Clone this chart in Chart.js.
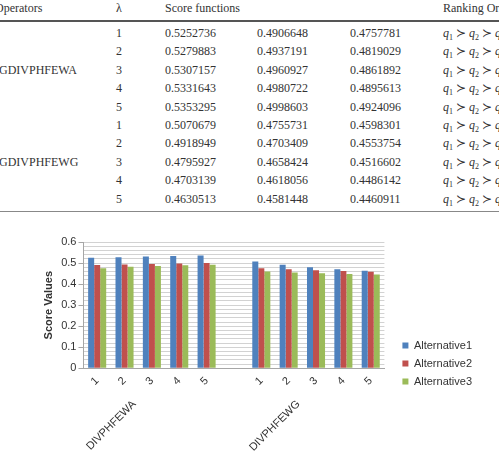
<!DOCTYPE html>
<html>
<head>
<meta charset="utf-8">
<script src="https://cdn.jsdelivr.net/npm/chart.js@4.4.1/dist/chart.umd.min.js"></script>
<style>
  body { margin: 0; width: 499px; height: 463px; overflow: hidden; background: #fff; position: relative; }
  #tbl { position: absolute; left: 0; top: 0; width: 499px; height: 215px; font-family: "Liberation Serif", "Times New Roman", serif; font-size: 12px; color: #333; }
  #tbl span { position: absolute; white-space: nowrap; line-height: 14px; }
  #tbl .rule1 { position: absolute; left: 0; width: 499px; top: 20px; height: 2px; background: #555; }
  #tbl .rule2 { position: absolute; left: 0; width: 499px; top: 211px; height: 1px; background: #888; }
  #wrap { position: absolute; left: 0; top: 228px; width: 499px; height: 235px; }
</style>
</head>
<body>
<div id="tbl"></div>
<div id="wrap"><canvas id="score_chart"></canvas></div>
<script>
// x axis categories (index 5 is the empty gap between the two operators)
var lambdaLabels = ['1', '2', '3', '4', '5', '', '1', '2', '3', '4', '5'];
var operatorNames = ['GDIVPHFEWA', 'GDIVPHFEWG'];
var groupLabels = ['DIVPHFEWA', 'DIVPHFEWG'];
var seriesNames = ['Alternative1', 'Alternative2', 'Alternative3'];

var alt1Wa = [0.5252736, 0.5279883, 0.5307157, 0.5331643, 0.5353295];
var alt2Wa = [0.4906648, 0.4937191, 0.4960927, 0.4980722, 0.4998603];
var alt3Wa = [0.4757781, 0.4819029, 0.4861892, 0.4895613, 0.4924096];
var alt1Wg = [0.5070679, 0.4918949, 0.4795927, 0.4703139, 0.4630513];
var alt2Wg = [0.4755731, 0.4703409, 0.4658424, 0.4618056, 0.4581448];
var alt3Wg = [0.4598301, 0.4553754, 0.4516602, 0.4486142, 0.4460911];

var barColors = ['#4f81bd', '#c0504d', '#9bbb59'];

// ---- table above the chart ----
var tbl = document.getElementById('tbl');
function put(text, x, y, html) {
    var s = document.createElement('span');
    if (html) { s.innerHTML = text; } else { s.textContent = text; }
    s.style.left = x + 'px';
    s.style.top = (y - 7) + 'px';
    tbl.appendChild(s);
}
put('Operators', -5, 8);
put('λ', 116, 8);
put('Score functions', 165, 8);
put('Ranking Order', 443, 8);
var rule = document.createElement('div'); rule.className = 'rule1'; tbl.appendChild(rule);
var rule2 = document.createElement('div'); rule2.className = 'rule2'; tbl.appendChild(rule2);

var rowY = 33, rowH = 18.4;
var tableCols = [[alt1Wa, alt2Wa, alt3Wa], [alt1Wg, alt2Wg, alt3Wg]];
for (var g = 0; g < 2; g++) {
    put(operatorNames[g], -1, rowY + rowH * (g * 5 + 2));
    for (var i = 0; i < 5; i++) {
        var y = rowY + rowH * (g * 5 + i);
        put(String(i + 1), 116, y);
        put(tableCols[g][0][i].toFixed(7), 165, y);
        put(tableCols[g][1][i].toFixed(7), 257, y);
        put(tableCols[g][2][i].toFixed(7), 350, y);
        put('<i>q</i><sub style="font-size:8px">1</sub> ≻ <i>q</i><sub style="font-size:8px">2</sub> ≻ <i>q</i><sub style="font-size:8px">3</sub>', 443, y, true);
    }
}

// ---- chart ----
function withGap(a, b) { return a.concat([null], b); }

var groupLabelPlugin = {
    id: 'groupLabels',
    afterDraw: function (chart) {
        var xs = chart.scales.x;
        var ctx = chart.ctx;
        var anchors = [1, 7];
        ctx.save();
        ctx.font = '11px "Liberation Sans", Arial, sans-serif';
        ctx.fillStyle = '#333';
        ctx.textAlign = 'right';
        ctx.textBaseline = 'middle';
        for (var i = 0; i < groupLabels.length; i++) {
            var x = (xs.getPixelForTick(anchors[i]) + xs.getPixelForTick(anchors[i] + 1)) / 2 - 4;
            var y = chart.chartArea.bottom + 34;
            ctx.save();
            ctx.translate(x, y);
            ctx.rotate(-Math.PI / 4);
            ctx.fillText(groupLabels[i], 0, 0);
            ctx.restore();
        }
        ctx.restore();
    }
};

function isMajor(v) { return Math.abs(v * 10 - Math.round(v * 10)) < 1e-6; }

var scoreConfig = {
    type: 'bar',
    data: {
        labels: lambdaLabels,
        datasets: [
            { label: seriesNames[0], data: withGap(alt1Wa, alt1Wg), backgroundColor: barColors[0] },
            { label: seriesNames[1], data: withGap(alt2Wa, alt2Wg), backgroundColor: barColors[1] },
            { label: seriesNames[2], data: withGap(alt3Wa, alt3Wg), backgroundColor: barColors[2] }
        ]
    },
    options: {
        responsive: true,
        maintainAspectRatio: false,
        animation: false,
        layout: { padding: { left: 38, right: 17, top: 14, bottom: 69 } },
        datasets: { bar: { categoryPercentage: 0.66, barPercentage: 1.0 } },
        plugins: {
            legend: {
                position: 'right',
                align: 'end',
                maxWidth: 120,
                labels: {
                    boxWidth: 6, boxHeight: 6, padding: 7,
                    color: '#333',
                    font: { family: '"Liberation Sans", Arial, sans-serif', size: 11 }
                }
            },
            tooltip: { enabled: false }
        },
        scales: {
            x: {
                grid: { display: false, drawTicks: false },
                border: { color: '#a6a6a6' },
                ticks: {
                    minRotation: 45, maxRotation: 45, autoSkip: false, padding: 6,
                    color: '#333',
                    font: { family: '"Liberation Sans", Arial, sans-serif', size: 11 }
                }
            },
            y: {
                min: 0, max: 0.6,
                title: {
                    display: true, text: 'Score Values', color: '#333',
                    font: { family: '"Liberation Sans", Arial, sans-serif', size: 11, weight: 'bold' }
                },
                border: { color: '#a6a6a6' },
                grid: {
                    color: '#d2d2d2',
                    tickLength: 5,
                    tickColor: function (c) { return c.tick && isMajor(c.tick.value) ? '#a6a6a6' : 'rgba(0,0,0,0)'; }
                },
                ticks: {
                    stepSize: 0.02, autoSkip: false, padding: 2,
                    color: '#333',
                    font: { family: '"Liberation Sans", Arial, sans-serif', size: 11 },
                    callback: function (v) {
                        if (!isMajor(v)) { return ''; }
                        return v === 0 ? '0' : v.toFixed(1);
                    }
                }
            },
            // empty right axis, only keeps a gap between the plot and the legend
            gap: {
                type: 'linear', position: 'right', display: true,
                grid: { display: false, drawTicks: false },
                border: { display: false },
                ticks: { display: false },
                afterFit: function (s) { s.width = 11; }
            }
        }
    },
    plugins: [groupLabelPlugin]
};

window.onload = function () {
    var ctx = document.getElementById('score_chart').getContext('2d');
    window.scoreChart = new Chart(ctx, scoreConfig);
};
</script>
</body>
</html>
